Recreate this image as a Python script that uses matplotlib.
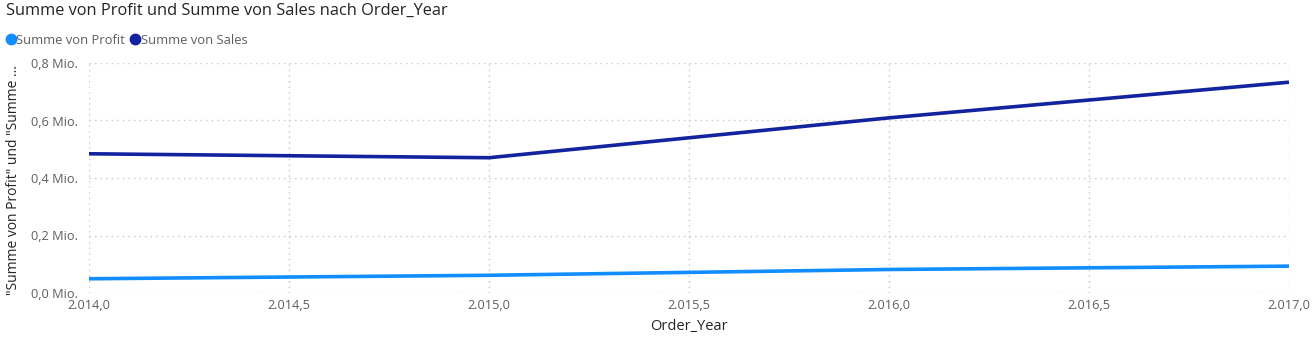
import matplotlib
matplotlib.use("Agg")
import matplotlib.pyplot as plt
from matplotlib.ticker import FuncFormatter, MultipleLocator
from matplotlib.lines import Line2D

# Daten
jahre = [2014, 2015, 2016, 2017]
profit = [49544, 61619, 81795, 93439]
sales = [484247, 470533, 609206, 733215]

farbe_profit = "#118DFF"
farbe_sales = "#12239E"
grau = "#605E5C"

plt.rcParams["font.family"] = ["Open Sans", "DejaVu Sans"]

fig = plt.figure(figsize=(13.12, 3.37), dpi=100)
W, H = 1312, 337
ax = fig.add_axes([89 / W, 1 - 293 / H, (1289 - 89) / W, (293 - 63) / H])

ax.plot(jahre, sales, color=farbe_sales, linewidth=2.6, solid_capstyle="butt")
ax.plot(jahre, profit, color=farbe_profit, linewidth=2.6, solid_capstyle="butt")

ax.set_xlim(2014, 2017)
ax.set_ylim(0, 800000)
ax.xaxis.set_major_locator(MultipleLocator(0.5))
ax.yaxis.set_major_locator(MultipleLocator(200000))


def fmt_x(v, pos):
    s = f"{v:,.1f}"
    return s.replace(",", "X").replace(".", ",").replace("X", ".")


def fmt_y(v, pos):
    return f"{v / 1e6:.1f}".replace(".", ",") + " Mio."


ax.xaxis.set_major_formatter(FuncFormatter(fmt_x))
ax.yaxis.set_major_formatter(FuncFormatter(fmt_y))

ax.grid(True, color="#C8C8C8", linestyle=(0, (1, 3)), linewidth=1)
ax.set_axisbelow(True)
for s in ax.spines.values():
    s.set_visible(False)
ax.tick_params(length=0, colors=grau, labelsize=9.2, pad=8)
ax.tick_params(axis="x", pad=4)

ax.set_xlabel("Order_Year", fontsize=10.5, color="#252423", labelpad=5)
fig.text(14 / W, 1 - 180 / H, '"Summe von Profit" und "Summe ...',
         rotation=90, ha="center", va="center", fontsize=10, color="#252423")

fig.text(6 / W, 1 - 11 / H, "Summe von Profit und Summe von Sales nach Order_Year",
         ha="left", va="center", fontsize=11.8, color="#252423")

handles = [
    Line2D([], [], marker="o", linestyle="none", markersize=7.5,
           color=farbe_profit, label="Summe von Profit"),
    Line2D([], [], marker="o", linestyle="none", markersize=7.5,
           color=farbe_sales, label="Summe von Sales"),
]
fig.legend(handles=handles, loc="center left", bbox_to_anchor=(3 / W, 1 - 40 / H),
           ncol=2, frameon=False, fontsize=9.4, handletextpad=-0.2,
           columnspacing=0.2, handlelength=1.2, labelcolor=grau,
           borderaxespad=0, borderpad=0)

fig.savefig("out.png", dpi=100)
